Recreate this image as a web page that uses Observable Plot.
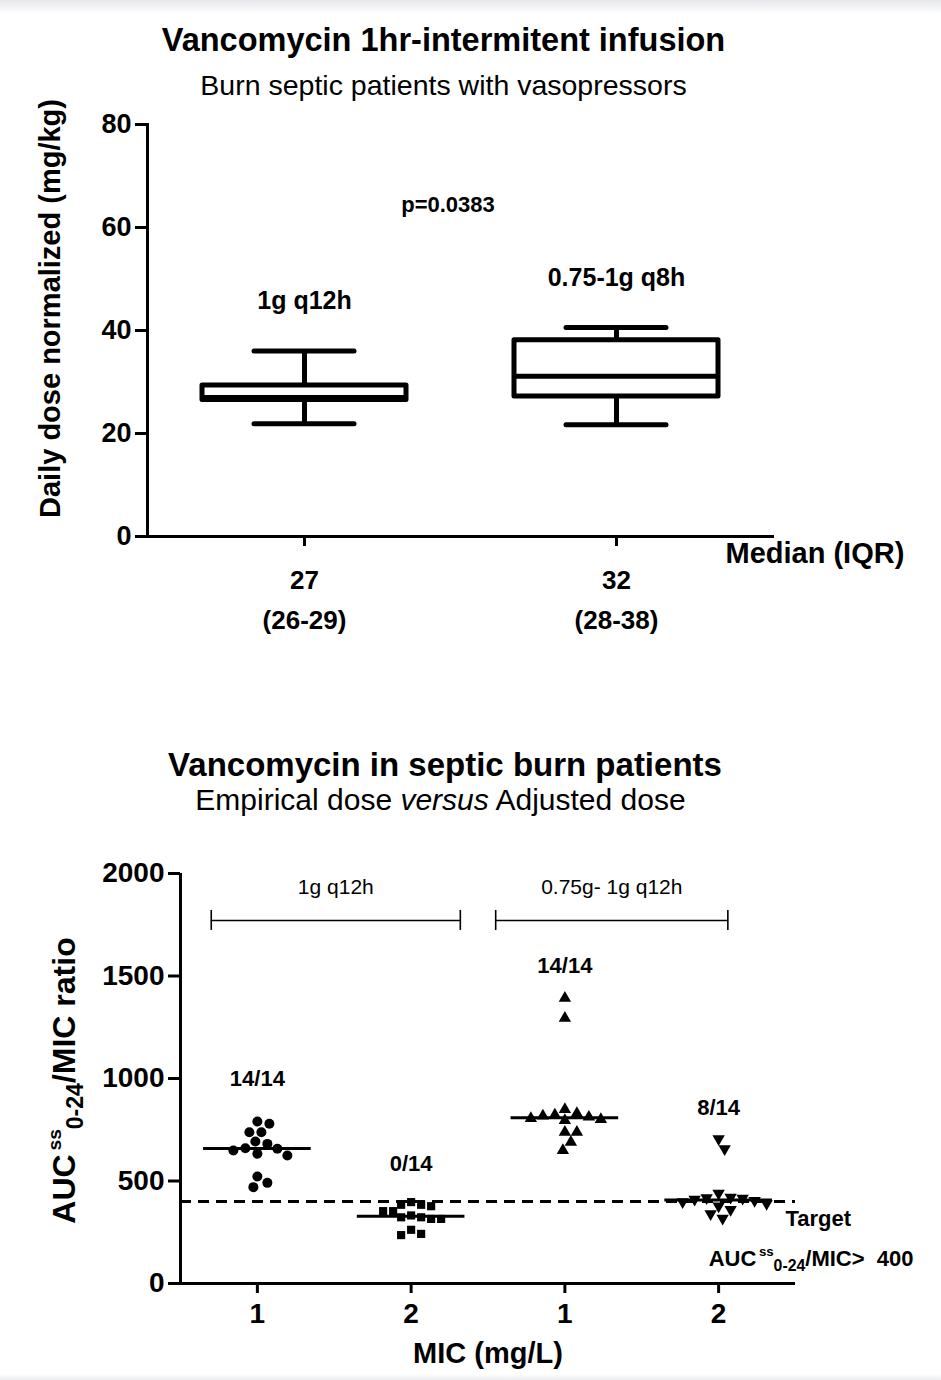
<!DOCTYPE html>
<html>
<head>
<meta charset="utf-8">
<script src="https://cdn.jsdelivr.net/npm/d3@7"></script>
<script src="https://cdn.jsdelivr.net/npm/@observablehq/plot@0.6"></script>
<style>
  html, body { margin: 0; padding: 0; background: #fff; }
  #page { position: relative; width: 941px; height: 1380px; overflow: hidden; background: #fff;
          font-family: 'Liberation Sans', Arial, Helvetica, sans-serif; color: #000; }
  #topbar { position: absolute; left: 0; top: 0; width: 941px; height: 14px;
            background: linear-gradient(#e6e7ea, #ffffff); }
  #botbar { position: absolute; left: 0; bottom: 0; width: 941px; height: 6px;
            background: linear-gradient(#ffffff, #eceef1); }
  .ttl { position: absolute; left: 0; text-align: center; white-space: nowrap; line-height: 1; }
  .chart { position: absolute; left: 0; }
  .chart svg { overflow: visible; }
</style>
</head>
<body>
<div id="page">
  <div id="topbar"></div>
  <div class="ttl" id="t1" style="top:24px;width:887px;font-size:32.5px;font-weight:bold;">Vancomycin 1hr-intermitent infusion</div>
  <div class="ttl" id="s1" style="top:71px;width:887px;font-size:28.5px;">Burn septic patients with vasopressors</div>
  <div class="chart" id="chart1" style="top:100px;"></div>
  <div class="ttl" id="t2" style="top:748px;width:890px;font-size:33px;font-weight:bold;">Vancomycin in septic burn patients</div>
  <div class="ttl" id="s2" style="top:785px;width:881px;font-size:30px;">Empirical dose <i>versus</i> Adjusted dose</div>
  <div class="chart" id="chart2" style="top:850px;"></div>
  <div id="botbar"></div>
</div>
<script>
const FONT = "'Liberation Sans', Arial, Helvetica, sans-serif";

// ---------------- Top chart: daily dose box plots ----------------
const doseGroups = ["1g q12h", "0.75-1g q8h"];
const doseMin = [21.9, 21.7];
const doseQ1 = [26.5, 27.2];
const doseMedian = [27.0, 31.1];
const doseQ3 = [29.3, 38.1];
const doseMax = [36.0, 40.6];
const doseMedianIqrLabels = ["27\n(26-29)", "32\n(28-38)"];
const doseRegimenLabelY = [45.8, 50.1];
const doseYTicks = [0, 20, 40, 60, 80];
const pValueLabel = "p=0.0383";
const pValueY = 64.3;

// ---------------- Bottom chart: AUC/MIC scatter ----------------
const micGroups = [1, 2, 3, 4];
const micTickLabels = ["1", "2", "1", "2"];
const aucEmpiricalMic1 = [790, 779, 738, 738, 693, 681, 660, 657, 649, 633, 624, 522, 491, 470];
const aucEmpiricalMic2 = [397, 384, 384, 377, 353, 353, 332, 323, 323, 315, 315, 262, 242, 236];
const aucAdjustedMic1 = [1392, 1294, 849, 830, 822, 818, 812, 805, 800, 795, 738, 738, 689, 649];
const aucAdjustedMic2 = [706, 657, 440, 420, 418, 415, 410, 405, 398, 390, 378, 360, 340, 318];
const aucYTicks = [0, 500, 1000, 1500, 2000];
const attainmentLabels = ["14/14", "0/14", "14/14", "8/14"];
const attainmentLabelY = [1000, 585, 1551, 854];
const aucTarget = 400;
const regimenBracketLabels = ["1g q12h", "0.75g- 1g q12h"];
const regimenBracketFrom = [0.70, 2.55];
const regimenBracketTo = [2.32, 4.06];
const regimenBracketY = 1771;
const regimenBracketLabelY = 1932;
const targetNote = "Target";
const targetNoteX = 4.435, targetNoteY = 317;
const targetRuleNoteX = 3.935, targetRuleNoteY = 122;

// ---------------- Build top chart ----------------
const boxes = doseGroups.map((g, i) => ({
  group: g, min: doseMin[i], q1: doseQ1[i], median: doseMedian[i], q3: doseQ3[i], max: doseMax[i],
  labelY: doseRegimenLabelY[i]
}));

const W = 941;
const top1 = { h: 560, mt: 24, mb: 124, ml: 147, mr: 169 };

const chart1 = Plot.plot({
  width: W, height: top1.h,
  marginTop: top1.mt, marginBottom: top1.mb, marginLeft: top1.ml, marginRight: top1.mr,
  style: { fontFamily: FONT, color: "#000", background: "transparent", overflow: "visible" },
  x: { type: "band", domain: doseGroups, padding: 0 },
  y: { domain: [0, 80] },
  marks: [
    Plot.axisY({ ticks: doseYTicks, tickSize: 12, tickPadding: 4, fontSize: 27, fontWeight: "bold", strokeWidth: 3,
                 label: null, tickFormat: d => String(d) }),
    Plot.axisX({ tickSize: 10, tickPadding: 14, fontSize: 26, fontWeight: "bold", lineHeight: 1.55, strokeWidth: 3,
                 label: null, tickFormat: d => doseMedianIqrLabels[doseGroups.indexOf(d)] }),
    Plot.frame({ anchor: "left", strokeWidth: 3 }),
    Plot.frame({ anchor: "bottom", strokeWidth: 3 }),
    // whiskers
    Plot.ruleX(boxes, { x: "group", y1: "min", y2: "q1", strokeWidth: 5 }),
    Plot.ruleX(boxes, { x: "group", y1: "q3", y2: "max", strokeWidth: 5 }),
    Plot.tickY(boxes, { x: "group", y: "min", insetLeft: 106, insetRight: 106, strokeWidth: 5, strokeLinecap: "round" }),
    Plot.tickY(boxes, { x: "group", y: "max", insetLeft: 106, insetRight: 106, strokeWidth: 5, strokeLinecap: "round" }),
    // boxes
    Plot.barY(boxes, { x: "group", y1: "q1", y2: "q3", fill: "white", stroke: "black", strokeWidth: 5,
                       strokeLinejoin: "round", insetLeft: 54, insetRight: 54 }),
    Plot.tickY(boxes, { x: "group", y: "median", insetLeft: 54, insetRight: 54, strokeWidth: 5 }),
    // regimen labels
    Plot.text(boxes, { x: "group", y: "labelY", text: "group", fontSize: 25, fontWeight: "bold" }),
    Plot.text([pValueLabel], { y: () => pValueY, frameAnchor: "middle", dx: -12, fontSize: 22, fontWeight: "bold" }),
    Plot.text(["Median (IQR)"], { frameAnchor: "bottom-right", textAnchor: "start", dx: -47, dy: 26,
                                  fontSize: 29, fontWeight: "bold" }),
    // y label
    Plot.text(["Daily dose normalized (mg/kg)"], { frameAnchor: "left", textAnchor: "middle", rotate: -90, dx: -97, dy: -22,
                                                   fontSize: 29, fontWeight: "bold" })
  ]
});
document.getElementById("chart1").append(chart1);

// ---------------- Build bottom chart ----------------
const bot = { h: 530, mt: 23, mb: 97, ml: 180, mr: 146 };
const xDomain = [0.5, 4.5];
const yDomain = [0, 2000];
const pxPerX = (W - bot.ml - bot.mr) / (xDomain[1] - xDomain[0]);
const pxPerY = (bot.h - bot.mt - bot.mb) / (yDomain[1] - yDomain[0]);

// beeswarm-style horizontal spreading (computed, deterministic)
function swarmOffsets(values, minDist, step) {
  const order = d3.range(values.length).sort((a, b) => d3.descending(values[a], values[b]));
  const placed = [];
  const off = new Array(values.length);
  for (const i of order) {
    const y = values[i] * pxPerY;
    for (let k = 0; ; k++) {
      const o = (k % 2 ? 1 : -1) * Math.ceil(k / 2) * step;
      if (placed.every(p => Math.hypot(p.x - o, p.y - y) >= minDist)) {
        off[i] = o; placed.push({ x: o, y }); break;
      }
    }
  }
  return off;
}

const triangleDown = {
  draw(context, size) {
    const sqrt3 = Math.sqrt(3);
    const y = -Math.sqrt(size / (sqrt3 * 3));
    context.moveTo(0, -y * 2);
    context.lineTo(-sqrt3 * y, y);
    context.lineTo(sqrt3 * y, y);
    context.closePath();
  }
};

const series = [
  { g: 1, values: aucEmpiricalMic1, symbol: "circle", r: 5, minDist: 11 },
  { g: 2, values: aucEmpiricalMic2, symbol: "square", r: 4.6, minDist: 10 },
  { g: 3, values: aucAdjustedMic1, symbol: "triangle", r: 4.6, minDist: 11 },
  { g: 4, values: aucAdjustedMic2, symbol: triangleDown, r: 4.6, minDist: 11 }
];

const dotMarks = series.map(s => {
  const off = swarmOffsets(s.values, s.minDist, 2);
  const pts = s.values.map((v, i) => ({ x: s.g + off[i] / pxPerX, v }));
  return Plot.dot(pts, { x: "x", y: "v", r: s.r, symbol: () => s.symbol, fill: "black", stroke: "none" });
});

const medianHalf = 0.35;
const medians = series.map(s => ({ g: s.g, m: d3.median(s.values) }));
const attain = micGroups.map((g, i) => ({ g, y: attainmentLabelY[i], label: attainmentLabels[i] }));
const brackets = regimenBracketLabels.map((label, i) => ({
  label, from: regimenBracketFrom[i], to: regimenBracketTo[i],
  mid: (regimenBracketFrom[i] + regimenBracketTo[i]) / 2
}));
const capHalf = 10 / pxPerY;

const chart2 = Plot.plot({
  width: W, height: bot.h,
  marginTop: bot.mt, marginBottom: bot.mb, marginLeft: bot.ml, marginRight: bot.mr,
  style: { fontFamily: FONT, color: "#000", background: "transparent", overflow: "visible" },
  x: { domain: xDomain },
  y: { domain: yDomain },
  marks: [
    Plot.axisY({ ticks: aucYTicks, tickSize: 12, tickPadding: 4, fontSize: 28, fontWeight: "bold", strokeWidth: 3,
                 label: null, tickFormat: d => String(d) }),
    Plot.axisX({ ticks: micGroups, tickSize: 10, tickPadding: 10, fontSize: 28, fontWeight: "bold", strokeWidth: 3,
                 label: null, tickFormat: d => micTickLabels[d - 1] }),
    Plot.ruleX([xDomain[0]], { strokeWidth: 3 }),
    Plot.ruleY([0], { strokeWidth: 3 }),
    // target line
    Plot.ruleY([aucTarget], { strokeWidth: 3, strokeDasharray: "11,7" }),
    // regimen brackets
    Plot.ruleY(brackets, { x1: "from", x2: "to", y: () => regimenBracketY, strokeWidth: 1.6 }),
    Plot.ruleX(brackets, { x: "from", y1: () => regimenBracketY - capHalf, y2: () => regimenBracketY + capHalf, strokeWidth: 1.6 }),
    Plot.ruleX(brackets, { x: "to", y1: () => regimenBracketY - capHalf, y2: () => regimenBracketY + capHalf, strokeWidth: 1.6 }),
    Plot.text(brackets, { x: "mid", y: () => regimenBracketLabelY, text: "label", fontSize: 21 }),
    // points
    ...dotMarks,
    // medians
    Plot.ruleY(medians, { x1: d => d.g - medianHalf, x2: d => d.g + medianHalf, y: "m", strokeWidth: 3 }),
    // attainment labels
    Plot.text(attain, { x: "g", y: "y", text: "label", fontSize: 22, fontWeight: "bold" }),
    // target notes
    Plot.text([targetNote], { x: () => targetNoteX, y: () => targetNoteY, textAnchor: "start", fontSize: 22, fontWeight: "bold" }),
    Plot.text(["AUCss0-24/MIC>  400"], { x: () => targetRuleNoteX, y: () => targetRuleNoteY, textAnchor: "start",
                                         fontSize: 22, fontWeight: "bold" }),
    // axis titles
    Plot.text(["MIC (mg/L)"], { frameAnchor: "bottom", dy: 79, fontSize: 29, fontWeight: "bold" }),
    Plot.text(["AUCss0-24/MIC ratio"], { frameAnchor: "left", textAnchor: "middle", rotate: -90, dx: -116, dy: 2,
                                         fontSize: 32, fontWeight: "bold" })
  ]
});
document.getElementById("chart2").append(chart2);

// rich text (superscript / subscript) for the AUC labels
function richAuc(el, size, tail) {
  const t = d3.select(el);
  t.text(null);
  t.append("tspan").text("AUC");
  t.append("tspan").attr("font-size", size * 0.6).attr("dx", size * 0.12).attr("dy", -size * 0.42).text("ss");
  t.append("tspan").attr("font-size", size * 0.72).attr("dy", size * 0.42 + size * 0.26).text("0-24");
  t.append("tspan").attr("dy", -size * 0.26).text(tail);
}
d3.select(chart2).selectAll("text").each(function () {
  const s = this.textContent;
  if (s === "AUCss0-24/MIC ratio") richAuc(this, 32, "/MIC ratio");
  else if (s === "AUCss0-24/MIC>  400") { d3.select(this).style("white-space", "pre"); richAuc(this, 22, "/MIC>\u00a0\u00a0400"); }
});
</script>
</body>
</html>
